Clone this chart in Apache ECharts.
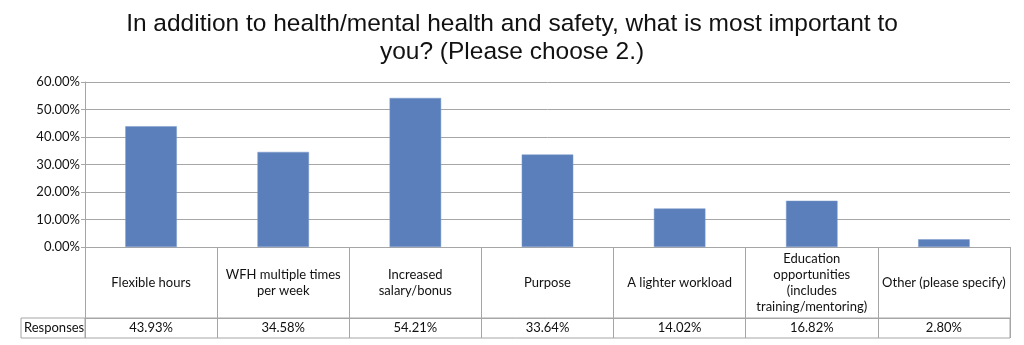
<!DOCTYPE html>
<html><head><meta charset="utf-8">
<script src="https://cdn.jsdelivr.net/npm/echarts@6/dist/echarts.min.js"></script>
<style>html,body{margin:0;padding:0;background:#fff}#c{width:1024px;height:345px}</style>
</head><body><div id="c"></div>
<script>
const titleText = "In addition to health/mental health and safety, what is most important to\nyou? (Please choose 2.)";
const categories = ["Flexible hours", "WFH multiple times\nper week", "Increased\nsalary/bonus", "Purpose", "A lighter workload", "Education\nopportunities\n(includes\ntraining/mentoring)", "Other (please specify)"];
const responses = [43.93, 34.58, 54.21, 33.64, 14.02, 16.82, 2.80];
const yTicks = [0, 10, 20, 30, 40, 50, 60];
const rowLabel = "Responses";

const chart = echarts.init(document.getElementById('c'), null, {renderer: 'canvas'});
const gridL = 85, gridR = 14, gridT = 82, gridB = 98;
const lineColor = '#a6a6a6';
const txt = {fontFamily: 'Lato', fontSize: 13, color: '#111'};
chart.setOption({
  animation: false,
  title: {
    text: titleText, left: 'center', top: 5,
    textStyle: {fontFamily: 'Liberation Sans', fontSize: 24.5, fontWeight: 'normal', color: '#111', lineHeight: 28}
  },
  grid: {left: gridL, right: gridR, top: gridT, bottom: gridB},
  xAxis: [{
    type: 'category', data: categories, position: 'bottom',
    axisLine: {show: true, lineStyle: {color: lineColor}},
    axisTick: {show: true, length: 91, lineStyle: {color: lineColor}},
    axisLabel: Object.assign({interval: 0, margin: 36, verticalAlign: 'middle', lineHeight: 16}, txt)
  }, {
    type: 'category', data: responses.map(v => v.toFixed(2) + '%'), position: 'bottom', offset: 71,
    axisLine: {show: true, lineStyle: {color: lineColor}},
    axisTick: {show: false},
    axisLabel: Object.assign({interval: 0, margin: 10, verticalAlign: 'middle'}, txt)
  }],
  yAxis: {
    type: 'value', min: 0, max: 60, interval: 10,
    axisLine: {show: true, lineStyle: {color: lineColor}},
    axisTick: {show: true, length: 4, lineStyle: {color: lineColor}},
    splitLine: {show: true, lineStyle: {color: lineColor}},
    axisLabel: Object.assign({formatter: v => yTicks.includes(v) ? v.toFixed(2) + '%' : '', margin: 5}, txt)
  },
  series: [{
    type: 'bar', data: responses, xAxisIndex: 0, barWidth: '39%',
    itemStyle: {color: '#5a7fba', borderColor: '#7d9acb', borderWidth: 0.5}
  }, {
    type: 'bar', data: responses.map(() => null), xAxisIndex: 1
  }],
  graphic: [{
    type: 'rect', shape: {x: 21, y: 318, width: 1010 - 21, height: 20},
    style: {fill: 'none', stroke: lineColor, lineWidth: 1}, z: 10
  }, {
    type: 'line', shape: {x1: gridL, y1: 318, x2: gridL, y2: 338},
    style: {stroke: lineColor, lineWidth: 1}, z: 10
  }, {
    type: 'text', left: 24, top: 321,
    style: {text: rowLabel, fontFamily: 'Lato', fontSize: 13, fill: '#111'}
  }]
});
</script></body></html>
